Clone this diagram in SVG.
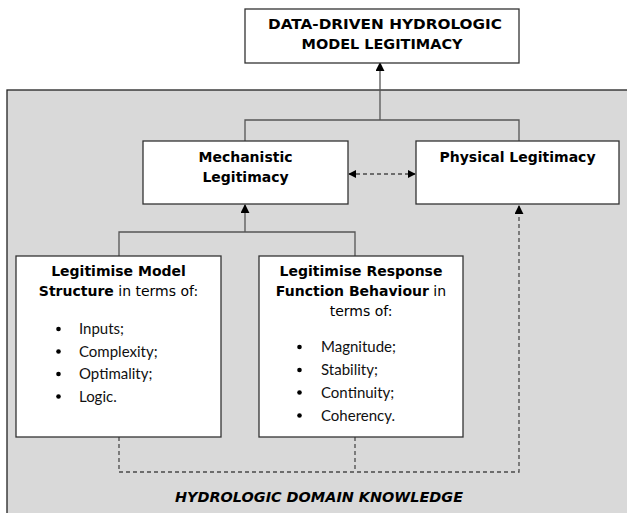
<svg xmlns="http://www.w3.org/2000/svg" width="627" height="513" viewBox="0 0 627 513">
  <defs>
    <style>
      .box { fill: #ffffff; stroke: #333333; stroke-width: 1.3; }
      .head { font-family: "DejaVu Sans", Verdana, sans-serif; font-size: 14px; font-weight: bold; fill: #000000; text-anchor: middle; }
      .reg { font-weight: normal; }
      .item { font-family: Lato, "Liberation Sans", sans-serif; font-size: 15px; fill: #111111; }
      .link { fill: none; stroke: #555555; stroke-width: 1.3; }
      .dash { fill: none; stroke: #4a4a4a; stroke-width: 1.3; stroke-dasharray: 4 3; }
      .bullet { fill: #000000; }
    </style>
    <marker id="arrow" viewBox="0 0 10 10" refX="9" refY="5" markerWidth="9" markerHeight="9" markerUnits="userSpaceOnUse" orient="auto-start-reverse">
      <path d="M0,0 L10,5 L0,10 Z" fill="#000000"/>
    </marker>
    <marker id="arrowSmall" viewBox="0 0 10 10" refX="9" refY="5" markerWidth="8" markerHeight="8" markerUnits="userSpaceOnUse" orient="auto-start-reverse">
      <path d="M0,0 L10,5 L0,10 Z" fill="#000000"/>
    </marker>
  </defs>

  <!-- white page -->
  <rect x="0" y="0" width="627" height="513" fill="#ffffff"/>

  <!-- shaded domain-knowledge panel -->
  <g id="domain-panel">
    <rect x="7" y="90" width="640" height="440" fill="#d9d9d9" stroke="#222222" stroke-width="1.3"/>
    <text class="head" x="319" y="502" font-style="italic" textLength="288" lengthAdjust="spacingAndGlyphs">HYDROLOGIC DOMAIN KNOWLEDGE</text>
  </g>

  <!-- connectors -->
  <g id="connectors">
    <path class="link" d="M380,120 V63" marker-end="url(#arrow)"/>
    <path class="link" d="M245,141 V120 H519 V141"/>
    <path class="link" d="M245,232 V205" marker-end="url(#arrow)"/>
    <path class="link" d="M119,256 V232 H355 V256"/>
    <path class="dash" d="M119,437 V472 H519 V206" marker-end="url(#arrow)"/>
    <path class="dash" d="M355,437 V472"/>
    <path class="dash" d="M349,174 H415" marker-start="url(#arrowSmall)" marker-end="url(#arrowSmall)"/>
  </g>

  <g id="model-legitimacy">
    <rect class="box" x="245" y="9" width="274" height="54"/>
    <text class="head" x="385" y="29" textLength="234" lengthAdjust="spacingAndGlyphs">DATA-DRIVEN HYDROLOGIC</text>
    <text class="head" x="382" y="49" textLength="161" lengthAdjust="spacingAndGlyphs">MODEL LEGITIMACY</text>
  </g>

  <g id="mechanistic-legitimacy">
    <rect class="box" x="143" y="141" width="205" height="63"/>
    <text class="head" x="245.5" y="162">Mechanistic</text>
    <text class="head" x="245.5" y="182">Legitimacy</text>
  </g>

  <g id="physical-legitimacy">
    <rect class="box" x="416" y="141" width="203" height="63"/>
    <text class="head" x="517.5" y="162">Physical Legitimacy</text>
  </g>

  <g id="model-structure">
    <rect class="box" x="16" y="256" width="205" height="181"/>
    <text class="head" x="118.5" y="276">Legitimise Model</text>
    <text class="head" x="118.5" y="296">Structure<tspan class="reg"> in terms of:</tspan></text>
    <circle class="bullet" cx="58.5" cy="329" r="2.3"/>
    <circle class="bullet" cx="58.5" cy="351.5" r="2.3"/>
    <circle class="bullet" cx="58.5" cy="374" r="2.3"/>
    <circle class="bullet" cx="58.5" cy="396.5" r="2.3"/>
    <text class="item" x="79" y="334">Inputs;</text>
    <text class="item" x="79" y="356.5">Complexity;</text>
    <text class="item" x="79" y="379">Optimality;</text>
    <text class="item" x="79" y="401.5">Logic.</text>
  </g>

  <g id="response-function">
    <rect class="box" x="259" y="256" width="204" height="181"/>
    <text class="head" x="361" y="276">Legitimise Response</text>
    <text class="head" x="361" y="296">Function Behaviour<tspan class="reg"> in</tspan></text>
    <text class="head reg" x="361" y="316">terms of:</text>
    <circle class="bullet" cx="299.5" cy="347" r="2.3"/>
    <circle class="bullet" cx="299.5" cy="370" r="2.3"/>
    <circle class="bullet" cx="299.5" cy="392.5" r="2.3"/>
    <circle class="bullet" cx="299.5" cy="415.5" r="2.3"/>
    <text class="item" x="321" y="352">Magnitude;</text>
    <text class="item" x="321" y="375">Stability;</text>
    <text class="item" x="321" y="397.5">Continuity;</text>
    <text class="item" x="321" y="420.5">Coherency.</text>
  </g>
</svg>
